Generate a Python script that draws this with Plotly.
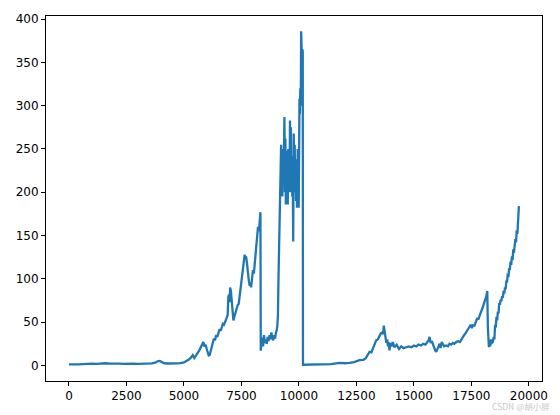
import plotly.graph_objects as go

# ─── Data ────────────────────────────────────────────────────────────────────

days = [
    0, 200, 400, 600, 800, 1000, 1200, 1400, 1600, 1800, 2000, 2200, 2400, 2600,
    2800, 3000, 3200, 3400, 3600, 3750, 3850, 3950, 4050, 4150, 4300, 4500, 4700,
    4850, 5000,
    5100, 5200, 5300, 5380, 5450, 5520, 5600, 5680, 5750, 5800, 5845, 5890, 5940,
    5990, 6040, 6075, 6120, 6170, 6220, 6250, 6300, 6350, 6400, 6450, 6500, 6550,
    6600, 6650, 6690, 6740, 6790, 6830, 6870, 6900, 6930, 6960, 6990, 7006, 7040,
    7080, 7120, 7150, 7180, 7210, 7250, 7300, 7340, 7380, 7420, 7460, 7490, 7530,
    7570, 7610, 7640, 7660, 7700, 7740, 7780, 7820, 7860, 7900, 7920, 7960, 8000,
    8040, 8080, 8120, 8140, 8180, 8220, 8260, 8290, 8310, 8325, 8340,
    8370, 8400, 8440, 8480, 8520, 8560, 8600, 8640, 8680, 8720, 8760, 8800, 8840,
    8880, 8920, 8960, 9000, 9030, 9060, 9085,
    9110, 9140, 9160, 9180, 9200, 9225, 9245, 9265, 9280, 9300, 9320, 9345, 9369,
    9390, 9410, 9430, 9450, 9470, 9490, 9513, 9535, 9555, 9575, 9590, 9610, 9630,
    9650, 9670, 9690, 9710, 9730, 9750, 9774, 9795, 9815, 9835, 9855, 9875, 9895,
    9915, 9935, 9948, 9970, 9990, 10010, 10022, 10040, 10060, 10080, 10096, 10110,
    10125, 10140, 10155, 10166,
    10175, 10300, 10600, 11000, 11400, 11760, 12000, 12200, 12400, 12630, 12800,
    12900, 13068, 13150, 13250, 13360, 13430, 13500, 13560, 13620, 13660, 13690,
    13730, 13770, 13800, 13840, 13870, 13900, 13938, 13980, 14030, 14080, 14150,
    14250, 14350, 14450, 14550, 14665, 14780, 14900, 15000, 15100, 15200, 15318,
    15400, 15500, 15580, 15640, 15679, 15730, 15780, 15830, 15880, 15930, 15970,
    16020, 16070, 16114, 16160, 16210, 16258, 16310, 16400, 16480, 16549, 16620,
    16700, 16760, 16841, 16920, 17000, 17080, 17160, 17240, 17320, 17420, 17470,
    17520, 17570, 17620, 17700, 17760, 17800, 17855, 17920, 17980, 18040, 18100,
    18150, 18190, 18215, 18240, 18260, 18290, 18320, 18350, 18380, 18433, 18470,
    18500, 18530, 18560, 18590, 18620, 18651, 18680, 18710, 18740, 18770, 18800,
    18835, 18868, 18900, 18930, 18960, 18990, 19020, 19050, 19080, 19110, 19140,
    19170, 19200, 19234, 19260, 19290, 19320, 19350, 19380, 19410, 19440, 19470,
    19500, 19525, 19545, 19565,
]

price = [
    1.2, 1.0, 1.3, 1.5, 1.9, 2.0, 1.8, 2.2, 2.5, 2.1, 2.3, 2.0, 1.8, 2.1,
    1.9, 1.7, 1.8, 2.0, 2.4, 3.2, 4.8, 5.2, 3.5, 2.5, 2.2, 2.0, 2.3,
    2.6, 3.5,
    5.0, 6.5, 9.0, 11.8, 8.5, 11.0, 14.0, 18.0, 22.0, 26.0, 27.0, 22.0, 24.0,
    19.0, 14.0, 11.5, 12.0, 17.0, 21.0, 27.0, 31.0, 29.0, 35.0, 33.0, 38.0, 42.0,
    40.0, 46.0, 48.0, 47.0, 52.0, 53.0, 56.0, 58.0, 79.0, 82.0, 73.0, 90.0, 86.0,
    75.0, 60.0, 52.0, 55.0, 58.0, 63.0, 66.0, 70.0, 71.0, 80.0, 93.0, 98.0, 102.0,
    112.0, 120.0, 128.0, 124.0, 126.0, 118.0, 105.0, 98.0, 92.0, 95.0, 90.0, 100.0,
    110.0, 106.0, 118.0, 135.0, 143.0, 150.0, 160.0, 155.0, 165.0, 172.0, 177.0,
    17.0,
    24.0, 32.0, 22.0, 35.0, 26.0, 30.0, 25.0, 33.0, 28.0, 35.0, 30.0, 38.0, 32.0,
    29.0, 35.0, 31.0, 38.0, 40.0, 46.0, 56.0,
    100.0, 140.0, 172.0, 193.0, 185.0, 255.0, 200.0, 250.0, 195.0, 235.0, 215.0,
    240.0, 287.0, 200.0, 262.0, 186.0, 248.0, 212.0, 236.0, 186.0, 250.0, 208.0,
    232.0, 200.0, 283.0, 215.0, 275.0, 200.0, 242.0, 195.0, 228.0, 143.0, 268.0,
    200.0, 255.0, 212.0, 238.0, 190.0, 228.0, 182.0, 215.0, 250.0, 210.0, 182.0,
    255.0, 308.0, 290.0, 320.0, 300.0, 386.0, 350.0, 384.0, 340.0, 365.0, 361.0,
    0.8, 0.9, 1.0, 1.3, 1.6, 3.0, 2.5, 3.0, 3.8, 6.0, 6.5,
    8.0, 15.6, 15.0, 21.0, 29.0, 30.0, 34.0, 37.0, 38.0, 36.0, 46.0,
    40.0, 32.0, 26.0, 30.0, 22.0, 27.0, 17.5, 26.0, 22.0, 27.0, 21.0,
    24.0, 19.0, 22.0, 20.0, 21.0, 22.0, 21.0, 23.0, 22.0, 24.0, 23.0,
    25.0, 24.0, 27.0, 29.0, 33.0, 26.0, 28.0, 24.0, 20.0, 17.0, 15.6,
    18.0, 22.0, 25.0, 20.0, 27.0, 25.0, 22.0, 23.0, 22.0, 25.0, 24.0,
    26.0, 25.0, 27.0, 28.0, 27.0, 31.0, 34.0, 37.0, 40.0, 44.0, 47.0,
    43.0, 47.0, 45.0, 50.0, 55.0, 53.0, 58.0, 62.0, 66.0, 70.0, 76.0,
    80.0, 86.0, 45.0, 24.0, 21.0, 28.0, 22.0, 30.0, 26.0, 27.0, 33.0,
    30.0, 47.0, 44.0, 56.0, 52.0, 62.0, 60.0, 72.0, 70.0, 76.0, 74.0,
    80.0, 78.0, 86.0, 83.0, 90.0, 88.0, 98.0, 96.0, 106.0, 102.0, 112.0,
    110.0, 120.0, 116.0, 126.0, 122.0, 134.0, 130.0, 140.0, 146.0, 142.0, 156.0,
    152.0, 168.0, 174.0, 184.0,
]

x_ticks = [0, 2500, 5000, 7500, 10000, 12500, 15000, 17500, 20000]
y_ticks = [0, 50, 100, 150, 200, 250, 300, 350, 400]

LINE_COLOR = "#1f77b4"
FONT_FAMILY = "DejaVu Sans, sans-serif"

fig = go.Figure(go.Scatter(
    x=days,
    y=price,
    mode="lines",
    line=dict(color=LINE_COLOR, width=2.3),
    showlegend=False,
))

axis_style = dict(
    showline=True, mirror=True, linecolor="black", linewidth=1,
    ticks="outside", ticklen=4, tickwidth=1, tickcolor="black",
    showgrid=False, zeroline=False,
    tickfont=dict(family=FONT_FAMILY, size=12, color="black"),
)

fig.update_xaxes(range=[-1000, 20570], tickvals=x_ticks,
                 ticktext=[str(v) for v in x_ticks], **axis_style)
fig.update_yaxes(range=[-18, 403.6], tickvals=y_ticks,
                 ticktext=[str(v) for v in y_ticks], **axis_style)

fig.update_layout(
    width=560, height=415,
    margin=dict(l=46, r=18, t=13, b=34),
    paper_bgcolor="white",
    plot_bgcolor="white",
    font=dict(family=FONT_FAMILY, color="black"),
)

# faint watermark in the bottom-right corner, just under the tick labels
fig.add_annotation(
    text="CSDN @胡小胖", xref="paper", yref="paper", x=1.02, y=-0.0915,
    xanchor="right", yanchor="bottom", showarrow=False,
    font=dict(family="Noto Sans CJK SC, sans-serif", size=8.5, color="#c8c8c8"),
)

# drop the default page margin so the figure sits at the window's corner
fig.write_html(
    "out.html",
    config={"displayModeBar": False},
    post_script="document.body.style.margin='0';",
)
